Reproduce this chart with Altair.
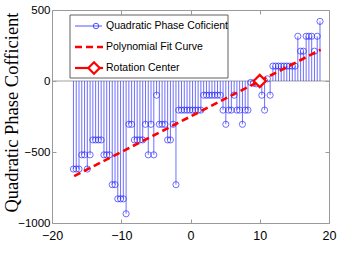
import altair as alt
import pandas as pd

# Stem samples: range bin (m) and quadratic phase coefficient
range_m = [-16.9, -16.5, -16.1, -15.7, -15.3, -14.9, -14.5, -14.1, -13.7, -13.3,
           -12.9, -12.5, -12.1, -11.7, -11.3, -10.9, -10.5, -10.1, -9.7, -9.3,
           -8.9, -8.5, -8.1, -7.7, -7.3, -6.9, -6.5, -6.1, -5.7, -5.3,
           -4.9, -4.5, -4.1, -3.7, -3.3, -2.9, -2.5, -2.1, -1.7, -1.3,
           -0.9, -0.5, -0.1, 0.3, 0.7, 1.1, 1.5, 1.9, 2.3, 2.7,
           3.1, 3.5, 3.9, 4.3, 4.7, 5.1, 5.5, 5.9, 6.3, 6.7,
           7.1, 7.5, 7.9, 8.3, 8.7, 9.1, 9.5, 9.9, 10.3, 10.7,
           11.1, 11.5, 11.9, 12.3, 12.7, 13.1, 13.5, 13.9, 14.3, 14.7,
           15.1, 15.5, 15.9, 16.3, 16.7, 17.1, 17.5, 17.9, 18.3, 18.7]
coef = [-620, -620, -620, -520, -520, -620, -520, -415, -415, -415,
        -415, -520, -520, -520, -730, -730, -830, -830, -830, -935,
        -305, -305, -415, -415, -415, -415, -305, -520, -305, -520,
        -100, -305, -305, -305, -415, -415, -305, -730, -205, -205,
        -205, -205, -205, -205, -205, -205, -205, -100, -100, -100,
        -100, -100, -100, -100, -205, -305, -205, -205, -100, -205,
        -205, -305, -205, -205, -10, -15, -20, 10, -100, -205,
        15, -100, 105, 105, 105, 105, 105, 105, 105, 105,
        105, 315, 210, 210, 315, 315, 315, 210, 315, 420]

# Polynomial fit curve end points
fit_x = [-16.8, 18.8]
fit_y = [-670, 220]

# Rotation center
center_x = [10]
center_y = [0]

legend_labels = ["Quadratic Phase Coficient", "Polynomial Fit Curve", "Rotation Center"]

W, H = 277, 213
BLUE = "#2a2aff"
RED = "#ff0000"
FRAME = "#9a9a9a"
SANS = "Liberation Sans, Arial, sans-serif"
SERIF = "Liberation Serif, Times New Roman, serif"

stems = pd.DataFrame({"range": range_m, "coef": coef, "zero": [0] * len(coef)})
fit = pd.DataFrame({"range": fit_x, "coef": fit_y})
center = pd.DataFrame({"range": center_x, "coef": center_y})

xs = alt.Scale(domain=[-20, 20], nice=False)
ys = alt.Scale(domain=[-1000, 500], nice=False)

x_bottom = alt.Axis(orient="bottom", values=[-20, -10, 0, 10, 20], format="d", title="Range (m)",
                    offset=-4, tickSize=4, domain=False, grid=False, tickColor=FRAME,
                    labelFont=SANS, labelFontSize=12.5, labelPadding=6, labelColor="black",
                    labelFlush=False, titleFont=SERIF, titleFontSize=16.5, titleFontWeight="normal",
                    titleColor="black", titleY=241, titleBaseline="alphabetic")
y_left = alt.Axis(orient="left", values=[-1000, -500, 0, 500], format="d",
                  title="Quadratic Phase Cofficient",
                  offset=-4, tickSize=4, domain=False, grid=False, tickColor=FRAME,
                  labelFont=SANS, labelFontSize=11.5, labelPadding=2,
                  labelColor="black", labelFlush=False,
                  titleFont=SERIF, titleFontSize=18.5, titleFontWeight="normal",
                  titleColor="black", titleX=-39, titleY=102, titleAngle=-90,
                  titleAlign="center", titleBaseline="alphabetic")
x_top = alt.Axis(orient="top", values=[-20, -10, 0, 10, 20], title=None, labels=False,
                 offset=-4, tickSize=4, domain=False, grid=False, tickColor=FRAME)
y_right = alt.Axis(orient="right", values=[-1000, -500, 0, 500], title=None, labels=False,
                   offset=-4, tickSize=4, domain=False, grid=False, tickColor=FRAME)

# stem baseline at zero
baseline = alt.Chart(pd.DataFrame({"coef": [0]})).mark_rule(color="#a0a0a0", strokeWidth=1).encode(
    y=alt.Y("coef:Q", scale=ys, axis=None), x=alt.value(0), x2=alt.value(W))

stem_lines = alt.Chart(stems).mark_rule(color=BLUE, strokeWidth=0.8, opacity=0.85).encode(
    x=alt.X("range:Q", scale=xs, axis=x_bottom),
    y=alt.Y("coef:Q", scale=ys, axis=y_left),
    y2="zero:Q")

stem_heads = alt.Chart(stems).mark_point(shape="circle", size=38, filled=False, color=BLUE,
                                          strokeWidth=0.8, opacity=0.85).encode(
    x=alt.X("range:Q", scale=xs, axis=x_top),
    y=alt.Y("coef:Q", scale=ys, axis=y_right))

fit_line = alt.Chart(fit).mark_line(color=RED, strokeWidth=2.6, strokeDash=[7, 4]).encode(
    x=alt.X("range:Q", scale=xs, axis=None), y=alt.Y("coef:Q", scale=ys, axis=None))

center_mark = alt.Chart(center).mark_point(shape="diamond", size=150, filled=False, color=RED,
                                            fill="white", fillOpacity=1, strokeWidth=2.2, opacity=1).encode(
    x=alt.X("range:Q", scale=xs, axis=None), y=alt.Y("coef:Q", scale=ys, axis=None))

# legend box and entries
one = pd.DataFrame({"k": [0]})
lg_box = alt.Chart(one).mark_rect(fill="white", stroke="#606060", strokeWidth=1).encode(
    x=alt.value(18), x2=alt.value(176), y=alt.value(5), y2=alt.value(68))
lg_line1 = alt.Chart(one).mark_rule(color=BLUE, strokeWidth=0.8).encode(
    x=alt.value(23), x2=alt.value(50), y=alt.value(16))
lg_pt1 = alt.Chart(one).mark_point(shape="circle", size=30, filled=False, color=BLUE,
                                    strokeWidth=0.8, opacity=1).encode(x=alt.value(44), y=alt.value(16))
lg_line2 = alt.Chart(one).mark_rule(color=RED, strokeWidth=2.6, strokeDash=[7, 4]).encode(
    x=alt.value(23), x2=alt.value(51), y=alt.value(37))
lg_line3 = alt.Chart(one).mark_rule(color=RED, strokeWidth=2.2).encode(
    x=alt.value(23), x2=alt.value(51), y=alt.value(58))
lg_pt3 = alt.Chart(one).mark_point(shape="diamond", size=130, filled=False, color=RED, fill="white",
                                    fillOpacity=1, strokeWidth=2.2, opacity=1).encode(
    x=alt.value(42), y=alt.value(58))

lg_texts = [
    alt.Chart(pd.DataFrame({"label": [lab]})).mark_text(
        align="left", baseline="middle", font=SANS, fontSize=10.5, color="black").encode(
        x=alt.value(54), y=alt.value(yy), text="label:N")
    for lab, yy in zip(legend_labels, [16, 37, 58])
]

chart = alt.layer(
    baseline, stem_lines, stem_heads, fit_line, center_mark,
    lg_box, lg_line1, lg_pt1, lg_line2, lg_line3, lg_pt3, *lg_texts
).resolve_axis(x="independent", y="independent").properties(
    width=W, height=H,
    autosize=alt.AutoSizeParams(type="none"),
    padding={"left": 52, "top": 10, "right": 13, "bottom": 41},
    background="white"
).configure_view(stroke=FRAME, strokeWidth=1)

chart.save("out.html", embed_options={"renderer": "svg", "actions": False})
